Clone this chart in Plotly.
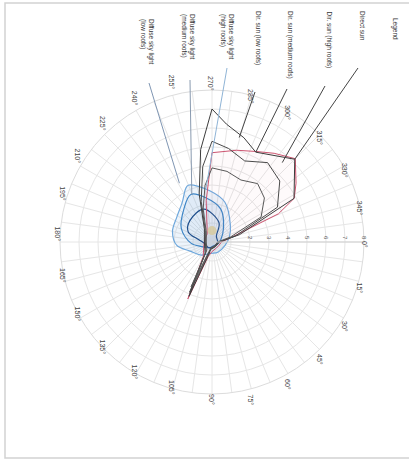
import math
import plotly.graph_objects as go

# ---------------------------------------------------------------- data
# Radial scale 0-8, angles in degrees (clockwise, 0 pointing right)
R_MAX = 8

theta_sun = [0, 30, 60, 90, 105, 113, 121, 150, 180, 210, 240, 262, 270, 285, 296, 305, 315, 325, 332, 337, 345, 360]
r_sun = [0.5, 0.4, 0.4, 0.5, 0.8, 3.25, 0.9, 0.5, 0.4, 0.4, 0.5, 2.2, 4.7, 5.0, 5.3, 5.7, 6.2, 5.4, 4.9, 3.8, 1.2, 0.5]

theta_high = [0, 60, 100, 105, 113, 121, 180, 240, 255, 263, 270, 277, 287, 296, 315, 332, 345, 360]
r_high = [0.4, 0.3, 0.4, 0.7, 3.1, 0.7, 0.4, 0.8, 2.6, 4.9, 7.0, 6.25, 5.74, 5.26, 6.16, 4.89, 1.5, 0.4]

theta_med = [0, 60, 100, 106, 114, 122, 180, 240, 255, 263, 270, 280, 292, 305, 318, 332, 345, 360]
r_med = [0.35, 0.3, 0.35, 0.6, 2.9, 0.6, 0.35, 0.7, 2.2, 4.0, 5.3, 5.0, 4.6, 5.1, 4.8, 3.9, 1.3, 0.35]

theta_low = [0, 60, 100, 107, 115, 123, 180, 240, 255, 263, 270, 282, 295, 308, 320, 333, 345, 360]
r_low = [0.3, 0.25, 0.3, 0.5, 2.6, 0.5, 0.3, 0.6, 1.8, 3.0, 3.9, 3.8, 3.6, 3.9, 3.6, 2.9, 1.0, 0.3]

theta_dif_low = [14.6, 60, 98.5, 130, 157.5, 174.4, 194.6, 215.3, 233.1, 243.7, 247.3, 268, 288, 317, 342, 374.6]
r_dif_low = [0.71, 0.62, 0.61, 0.9, 1.25, 1.86, 2.15, 2.27, 2.61, 3.13, 3.24, 2.69, 2.20, 1.32, 0.97, 0.71]

theta_dif_med = [23, 74, 115, 156, 177, 204, 229.5, 246, 262, 285, 310, 345, 383]
r_dif_med = [0.30, 0.22, 0.33, 0.6, 1.11, 1.77, 2.28, 2.74, 2.35, 1.79, 0.94, 0.48, 0.30]

theta_dif_high = [0, 60, 120, 169, 190, 203, 224, 256, 290, 307, 340, 360]
r_dif_high = [0.3, 0.25, 0.35, 0.4, 0.70, 1.36, 1.62, 1.78, 1.08, 0.38, 0.3, 0.3]

theta_point = [270]
r_point = [0.6]

angle_ticks = [i * 7.5 for i in range(48)]
angle_labels = [f"{int(a)}°" if a % 15 == 0 else "" for a in angle_ticks]
radial_ticks = [1, 2, 3, 4, 5, 6, 7, 8]
radial_labels = ["1", "2", "3", "4", "5", "6", "7", "8"]

legend_title = "Legend"
legend_texts = [
    "Direct sun",
    "Dir. sun (high roofs)",
    "Dir. sun (medium roofs)",
    "Dir. sun (low roofs)",
    "Diffuse sky light<br>(high roofs)",
    "Diffuse sky light<br>(medium roofs)",
    "Diffuse sky light<br>(low roofs)",
]

# ---------------------------------------------------------------- geometry
W, H = 409, 461
CX, CY, RP = 212, 242, 152  # polar centre and radius in pixels

def paper(px, py):
    return px / W, 1 - py / H

def polar_to_paper(r, th):
    a = math.radians(th)
    return paper(CX + RP * r / R_MAX * math.cos(a), CY + RP * r / R_MAX * math.sin(a))

# label block: centre x, top y, leader start (x, y), leader end (r, theta), colour
legend_layout = [
    (362, 9, (358, 68), (6.16, 315), "#444444"),
    (328, 9, (325, 86), (5.58, 311.5), "#444444"),
    (290, 9, (287, 89), (5.26, 296), "#444444"),
    (258, 9, (255, 92), (5.68, 284.6), "#444444"),
    (227, 12, (227, 68), (2.83, 263.5), "#8fb4d6"),
    (188, 12, (190, 80), (2.72, 247), "#8a9bb0"),
    (147, 17, (149, 83), (3.54, 241), "#7f96b3"),
]

BLACK = "#3c3c3c"
RED = "#cc5470"

fig = go.Figure()

fig.add_trace(go.Scatterpolar(r=r_dif_low, theta=theta_dif_low, mode="lines",
                              line=dict(color="#6fa8dc", width=1.2, shape="spline"),
                              fill="toself", fillcolor="rgba(111,168,220,0.12)"))
fig.add_trace(go.Scatterpolar(r=r_dif_med, theta=theta_dif_med, mode="lines",
                              line=dict(color="#3d85c6", width=1.2, shape="spline"),
                              fill="toself", fillcolor="rgba(61,133,198,0.07)"))
fig.add_trace(go.Scatterpolar(r=r_dif_high, theta=theta_dif_high, mode="lines",
                              line=dict(color="#1f4f8c", width=1.2, shape="spline")))
fig.add_trace(go.Scatterpolar(r=r_sun, theta=theta_sun, mode="lines",
                              line=dict(color=RED, width=1),
                              fill="toself", fillcolor="rgba(220,120,140,0.035)"))
fig.add_trace(go.Scatterpolar(r=r_high, theta=theta_high, mode="lines",
                              line=dict(color=BLACK, width=1)))
fig.add_trace(go.Scatterpolar(r=r_med, theta=theta_med, mode="lines",
                              line=dict(color="#4a4a4a", width=1)))
fig.add_trace(go.Scatterpolar(r=r_low, theta=theta_low, mode="lines",
                              line=dict(color="#585858", width=1)))
fig.add_trace(go.Scatterpolar(r=r_point, theta=theta_point, mode="markers",
                              marker=dict(size=9, color="rgba(215,200,150,0.75)")))

annotations = [dict(text=legend_title, x=395 / W, y=1 - 16 / H, xref="paper", yref="paper",
                    xanchor="center", yanchor="top", textangle=90, showarrow=False,
                    font=dict(size=6.5, color="#333333"))]
shapes = []
for text, (lx, ly, start, end, col) in zip(legend_texts, legend_layout):
    ax_, ay_ = paper(lx, ly)
    annotations.append(dict(text=text, x=ax_, y=ay_, xref="paper", yref="paper",
                            xanchor="center", yanchor="top", textangle=90, align="left",
                            showarrow=False, font=dict(size=6.5, color="#333333")))
    x0, y0 = paper(*start)
    x1, y1 = polar_to_paper(*end)
    shapes.append(dict(type="line", xref="paper", yref="paper", x0=x0, y0=y0, x1=x1, y1=y1,
                       line=dict(color=col, width=1)))

# page frame
shapes.append(dict(type="rect", xref="paper", yref="paper", x0=5 / W, x1=1.02,
                   y0=1 - 458 / H, y1=1 - 3 / H, line=dict(color="#d2d2d2", width=1.5)))

fig.update_layout(
    width=W, height=H,
    margin=dict(l=0, r=0, t=0, b=0),
    paper_bgcolor="white",
    showlegend=False,
    font=dict(family="Liberation Sans, Arial, sans-serif"),
    annotations=annotations,
    shapes=shapes,
    polar=dict(
        domain=dict(x=[(CX - RP) / W, (CX + RP) / W], y=[1 - (CY + RP) / H, 1 - (CY - RP) / H]),
        bgcolor="white",
        angularaxis=dict(direction="clockwise", rotation=0, tickmode="array",
                         tickvals=angle_ticks, ticktext=angle_labels, tickangle=90,
                         tickfont=dict(size=7, color="#444444"), ticks="",
                         gridcolor="#e6e6e6", gridwidth=0.8, showline=True,
                         linecolor="#dcdcdc", linewidth=1),
        radialaxis=dict(range=[0, R_MAX], tickmode="array", tickvals=radial_ticks,
                        ticktext=radial_labels, angle=0, side="counterclockwise",
                        tickangle=90, tickfont=dict(size=6, color="#555555"), ticks="",
                        gridcolor="#e6e6e6", gridwidth=0.8, showline=True,
                        linecolor="#cfcfcf", linewidth=1),
    ),
)

fig.write_html("out.html")
